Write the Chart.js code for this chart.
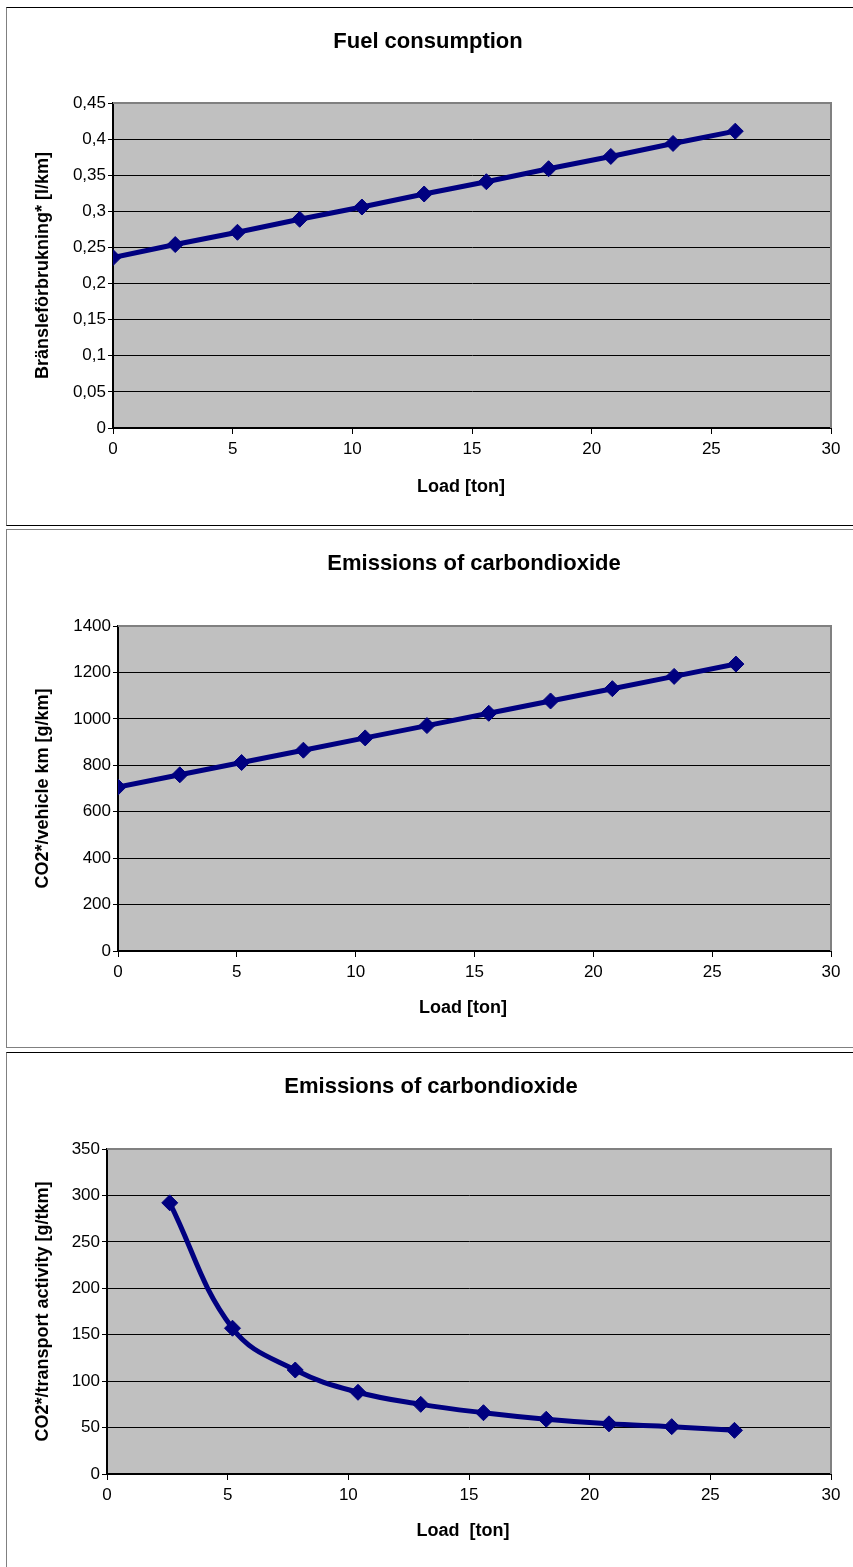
<!DOCTYPE html>
<html>
<head>
  <title>Load charts</title>
  <script src="https://cdn.jsdelivr.net/npm/chart.js@4"></script>
  <style>
    body { margin: 0; background: #fff; width: 853px; height: 1567px; overflow: hidden; position: relative; }
    canvas { position: absolute; left: 0; }
    .box { position: absolute; left: 6px; width: 900px; box-sizing: border-box; pointer-events: none; }
  </style>
</head>
<body>
  <canvas id="fuel" style="top:0px;width:853px;height:527px" width="853" height="527"></canvas>
  <canvas id="co2-vehicle" style="top:527px;width:853px;height:523px" width="853" height="523"></canvas>
  <canvas id="co2-transport" style="top:1050px;width:853px;height:517px" width="853" height="517"></canvas>

  <div class="box" style="top:7px;height:519px;border-top:1px solid #000;border-bottom:1px solid #000;border-left:1px solid #808080"></div>
  <div class="box" style="top:529px;height:519px;border-top:1px solid #808080;border-bottom:1px solid #808080;border-left:1px solid #808080"></div>
  <div class="box" style="top:1052px;height:520px;border-top:1px solid #000;border-left:1px solid #808080"></div>

  <script>
    // values
    const loads = [0, 2.6, 5.2, 7.8, 10.4, 13, 15.6, 18.2, 20.8, 23.4, 26];
    const fuel = [0.236, 0.254, 0.271, 0.289, 0.306, 0.324, 0.341, 0.359, 0.376, 0.394, 0.411];
    const co2Vehicle = [706, 759, 812, 865, 918, 971, 1024, 1077, 1130, 1183, 1236];
    const loadsTransport = [2.6, 5.2, 7.8, 10.4, 13, 15.6, 18.2, 20.8, 23.4, 26];
    const co2Transport = [292, 157, 112, 88, 75, 66, 59, 54, 51, 47];

    const FONT = 'Liberation Sans, Arial, sans-serif';
    const navy = '#000080';

    const plotBg = {
      id: 'plotBg',
      beforeDraw(chart) {
        const a = chart.chartArea, ctx = chart.ctx;
        ctx.save();
        ctx.fillStyle = '#c0c0c0';
        ctx.fillRect(a.left, a.top, a.right - a.left, a.bottom - a.top);
        ctx.restore();
      },
      afterDatasetsDraw(chart) {
        const a = chart.chartArea, ctx = chart.ctx;
        ctx.save();
        ctx.strokeStyle = '#808080';
        ctx.lineWidth = 2;
        ctx.beginPath();
        ctx.moveTo(a.left, a.top);
        ctx.lineTo(a.right, a.top);
        ctx.lineTo(a.right, a.bottom);
        ctx.stroke();
        ctx.restore();
      }
    };

    // chart title and x axis title, centred where the original has them
    const titles = {
      id: 'titles',
      afterDraw(chart, args, o) {
        const ctx = chart.ctx;
        ctx.save();
        ctx.fillStyle = '#000';
        ctx.textAlign = 'center';
        ctx.textBaseline = 'middle';
        ctx.font = 'bold 22px ' + FONT;
        ctx.fillText(o.title, o.titleX, o.titleY);
        ctx.font = 'bold 18px ' + FONT;
        ctx.fillText(o.xTitle, o.xTitleX, o.xTitleY);
        ctx.restore();
      }
    };

    function makeChart(id, cfg) {
      const points = cfg.xs.map((x, i) => ({ x: x, y: cfg.ys[i] }));
      return new Chart(document.getElementById(id), {
        type: 'line',
        data: {
          datasets: [{
            data: points,
            borderColor: navy,
            borderWidth: 5,
            tension: cfg.tension || 0,
            pointStyle: 'rectRot',
            pointRadius: 8,
            pointBorderWidth: 1,
            pointBackgroundColor: navy,
            pointBorderColor: navy
          }]
        },
        plugins: [plotBg, titles],
        options: {
          responsive: false,
          animation: false,
          layout: { padding: { left: 0, right: 22, top: cfg.plotTop, bottom: 0 } },
          plugins: {
            legend: { display: false },
            tooltip: { enabled: false },
            title: { display: false },
            titles: {
              title: cfg.title, titleX: cfg.titleX, titleY: cfg.titleY,
              xTitle: cfg.xTitle, xTitleX: cfg.xTitleX, xTitleY: cfg.xTitleY
            }
          },
          scales: {
            x: {
              type: 'linear',
              min: 0, max: 30,
              afterFit(s) { s.height = cfg.h - cfg.plotBottom; },
              ticks: { stepSize: 5, color: '#000', padding: 5, font: { family: FONT, size: 17 } },
              grid: { drawOnChartArea: false, drawTicks: true, tickLength: 6, color: '#000' },
              border: { color: '#000', width: 2 }
            },
            y: {
              min: 0, max: cfg.yMax,
              afterFit(s) { s.width = cfg.plotLeft; },
              ticks: {
                stepSize: cfg.yStep, color: '#000', padding: 2,
                font: { family: FONT, size: 17 },
                callback: v => String(Math.round(v * 100) / 100).replace('.', ',')
              },
              grid: { color: '#000', lineWidth: 1, tickLength: 5 },
              border: { color: '#000', width: 2 },
              title: {
                display: true, text: cfg.yTitle, color: '#000',
                font: { family: FONT, size: 18, weight: 'bold', lineHeight: 1.2 },
                padding: { top: 32, bottom: 0 }
              }
            }
          }
        }
      });
    }

    makeChart('fuel', {
      xs: loads, ys: fuel, h: 527,
      title: 'Fuel consumption', titleX: 428, titleY: 42,
      plotTop: 103, plotBottom: 428, plotLeft: 113,
      xTitle: 'Load [ton]', xTitleX: 461, xTitleY: 487,
      yTitle: 'Bränsleförbrukning* [l/km]', yMax: 0.45, yStep: 0.05
    });

    makeChart('co2-vehicle', {
      xs: loads, ys: co2Vehicle, h: 523,
      title: 'Emissions of carbondioxide', titleX: 474, titleY: 37,
      plotTop: 99, plotBottom: 424, plotLeft: 118,
      xTitle: 'Load [ton]', xTitleX: 463, xTitleY: 481,
      yTitle: 'CO2*/vehicle km [g/km]', yMax: 1400, yStep: 200
    });

    makeChart('co2-transport', {
      xs: loadsTransport, ys: co2Transport, h: 517, tension: 0.4,
      title: 'Emissions of carbondioxide', titleX: 431, titleY: 37,
      plotTop: 99, plotBottom: 424, plotLeft: 107,
      xTitle: 'Load  [ton]', xTitleX: 463, xTitleY: 481,
      yTitle: 'CO2*/transport activity [g/tkm]', yMax: 350, yStep: 50
    });
  </script>
</body>
</html>
